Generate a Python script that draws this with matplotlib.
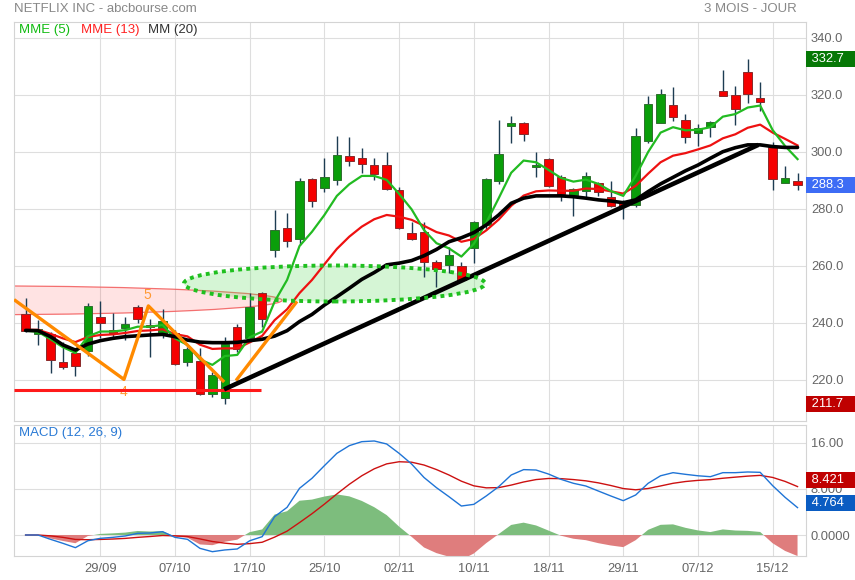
import matplotlib
matplotlib.use('Agg')
import matplotlib.pyplot as plt
from matplotlib.patches import Ellipse
import numpy as np

plt.rcParams['font.family'] = ['Liberation Sans', 'DejaVu Sans']

# --- donnees (63 seances) ---
tick_idx = [6, 12, 18, 24, 30, 36, 42, 48, 54, 60]
tick_labels = ['29/09', '07/10', '17/10', '25/10', '02/11', '10/11', '18/11', '29/11', '07/12', '15/12']

opens = [243.1, 236.0, 236.0, 226.2, 229.4, 230.3, 242.0, 237.5, 238.3, 245.6,
         239.3, 235.8, 236.4, 226.2, 226.7, 215.0, 213.6, 238.5, 234.8, 250.4,
         265.5, 273.2, 269.4, 290.4, 287.3, 290.0, 298.6, 297.8, 295.4, 295.4,
         286.7, 271.5, 272.0, 261.3, 260.2, 260.0, 266.2, 274.4, 289.9, 309.2,
         310.1, 294.8, 297.4, 291.3, 284.9, 286.2, 289.0, 284.3, 282.2, 281.4,
         304.0, 310.3, 316.5, 311.2, 306.6, 308.9, 321.4, 320.0, 328.0, 318.8,
         301.6, 289.0, 289.8]
highs = [248.7, 241.1, 237.0, 233.4, 231.2, 247.0, 247.7, 243.4, 242.2, 246.4,
         241.4, 244.9, 237.5, 231.5, 231.3, 222.8, 235.2, 239.6, 250.5, 251.0,
         279.6, 278.5, 290.8, 290.8, 297.8, 305.6, 305.4, 301.3, 297.8, 299.9,
         287.8, 275.5, 275.3, 262.1, 266.8, 261.5, 275.8, 290.8, 311.2, 312.6,
         310.4, 299.9, 297.9, 291.9, 287.5, 292.9, 289.6, 289.8, 283.2, 308.3,
         319.6, 322.1, 322.7, 313.3, 309.8, 311.0, 328.8, 323.2, 332.7, 324.7,
         303.6, 295.1, 292.5]
lows = [236.8, 232.3, 222.3, 223.9, 221.5, 228.4, 234.6, 234.6, 234.0, 239.9,
        228.2, 234.6, 225.3, 225.0, 214.8, 213.9, 211.7, 229.8, 234.0, 238.7,
        263.3, 266.8, 267.4, 280.8, 286.1, 288.4, 295.1, 292.7, 290.2, 286.5,
        273.0, 269.2, 256.2, 252.7, 257.4, 254.9, 261.0, 272.6, 288.8, 303.0,
        304.0, 291.3, 287.7, 282.9, 277.5, 284.3, 284.6, 280.8, 276.4, 280.8,
        303.3, 310.0, 311.0, 303.3, 302.1, 305.2, 319.6, 309.5, 317.3, 314.5,
        286.7, 289.0, 286.5]
closes = [237.3, 237.8, 226.9, 224.7, 225.0, 246.0, 240.1, 236.6, 239.6, 241.3,
          238.5, 240.7, 225.5, 230.8, 215.0, 221.8, 232.5, 230.8, 245.7, 241.3,
          272.6, 268.7, 289.8, 282.7, 291.1, 299.0, 297.0, 295.7, 292.2, 286.9,
          273.2, 269.4, 261.3, 258.8, 263.8, 255.1, 275.3, 290.5, 299.3, 310.1,
          306.2, 295.4, 288.2, 285.3, 287.0, 291.6, 285.8, 281.2, 281.2, 305.6,
          316.8, 320.4, 312.4, 305.4, 308.3, 310.5, 319.8, 315.0, 320.2, 317.6,
          290.4, 290.9, 288.3]

mme5 = [237.3, 236.9, 234.3, 231.5, 229.5, 235.3, 237.0, 237.0, 237.5, 238.7,
        238.7, 239.3, 234.6, 232.3, 227.2, 225.3, 228.4, 228.8, 235.0, 237.0,
        247.5, 255.1, 267.0, 272.0, 277.9, 284.6, 288.7, 291.6, 291.6, 290.2,
        285.3, 279.9, 272.6, 268.0, 266.2, 263.3, 267.8, 275.2, 283.8, 292.7,
        297.0, 296.4, 293.7, 290.9, 289.6, 290.3, 288.8, 286.3, 284.6, 291.6,
        300.0, 306.8, 308.7, 307.6, 307.8, 308.7, 312.4, 313.3, 315.6, 316.3,
        307.7, 302.1, 297.5]
mme13 = [237.6, 237.6, 236.2, 234.6, 233.3, 235.1, 235.8, 236.0, 236.5, 237.2,
         237.4, 237.8, 236.1, 235.3, 232.4, 230.9, 231.1, 231.1, 233.2, 235.5,
         241.0, 244.8, 250.5, 255.1, 260.6, 266.0, 270.3, 273.8, 276.4, 277.9,
         277.3, 276.2, 274.1, 271.9, 270.7, 268.5, 269.5, 272.5, 276.3, 281.1,
         284.7, 286.2, 286.5, 286.4, 286.4, 287.2, 287.0, 286.2, 285.4, 288.1,
         292.4, 296.4, 298.7, 299.6, 300.9, 302.3, 304.8, 306.2, 308.5, 309.6,
         306.8, 304.6, 302.3]
mm20 = [237.4, 237.3, 235.2, 232.3, 230.5, 232.6, 233.8, 234.6, 235.2, 235.5,
        235.8, 236.0, 235.2, 234.0, 233.3, 233.1, 233.1, 233.2, 233.8, 234.3,
        235.4, 237.3, 240.5, 243.0, 246.3, 249.2, 252.2, 255.3, 257.7, 260.4,
        261.0, 261.9, 263.6, 265.8, 268.5, 269.9, 271.7, 274.4, 277.9, 282.0,
        283.8, 284.6, 284.6, 284.6, 284.3, 283.8, 283.2, 282.8, 282.2, 283.2,
        286.1, 288.8, 291.1, 293.4, 295.4, 297.8, 300.1, 301.5, 302.5, 302.5,
        301.9, 301.6, 301.6]

macd = [0.0, 0.0, -0.75, -1.45, -2.2, -1.0, -0.58, -0.41, -0.17, 0.29,
        0.35, 0.58, -0.41, -0.75, -2.32, -2.9, -2.6, -2.43, -1.0, -0.29,
        3.19, 4.81, 8.12, 9.86, 12.06, 14.2, 15.54, 16.23, 16.35, 15.83,
        14.2, 12.35, 10.0, 8.23, 6.67, 5.04, 5.33, 6.79, 8.41, 10.43,
        11.37, 11.3, 10.6, 9.68, 8.99, 8.52, 7.65, 6.79, 5.97, 6.96,
        8.99, 10.3, 10.84, 10.55, 10.3, 10.14, 10.84, 10.84, 10.96, 10.9,
        8.58, 6.55, 4.764]
signal = [0.0, 0.0, -0.15, -0.41, -0.77, -0.82, -0.77, -0.70, -0.59, -0.41,
          -0.26, -0.09, -0.15, -0.27, -0.68, -1.13, -1.42, -1.62, -1.50, -1.26,
          -0.37, 0.67, 2.16, 3.70, 5.37, 7.14, 8.82, 10.30, 11.51, 12.37,
          12.74, 12.66, 12.17, 11.38, 10.44, 9.36, 8.55, 8.20, 8.24, 8.68,
          9.22, 9.64, 9.83, 9.80, 9.64, 9.42, 9.07, 8.61, 8.08, 7.86,
          8.09, 8.53, 8.99, 9.30, 9.50, 9.63, 9.87, 10.06, 10.24, 10.37,
          10.01, 9.32, 8.421]

# traces dessines a la main (index de seance, cours)
vague_1 = [(-0.93, 248.2), (7.9, 220.2), (9.86, 246.0), (15.95, 219.3)]
vague_2 = [(16.9, 219.8), (21.8, 247.6)]
support = [(-0.93, 216.5), (18.9, 216.5)]
tendance = [(15.94, 216.7), (58.85, 302.5)]
ellipse_rose = ((-3.58, 247.96), 48.35, 10.1)
ellipse_verte = ((24.81, 253.86), 24.18, 12.63)

x = np.arange(len(closes))
o = np.array(opens); c = np.array(closes)
h = np.array(highs); l = np.array(lows)

fig = plt.figure(figsize=(8.55, 5.8), dpi=100)
ax = fig.add_axes([0.016374, 0.274138, 0.926316, 0.687931])
ax2 = fig.add_axes([0.016374, 0.041379, 0.926316, 0.225862])

for a in (ax, ax2):
    a.set_xlim(-0.932, 62.68)
    a.set_xticks(tick_idx)
    a.grid(True, color='#dedede', lw=0.8)
    a.set_axisbelow(True)
    for s in a.spines.values():
        s.set_color('#d4d4d4')
        s.set_linewidth(0.8)
    a.yaxis.tick_right()
    a.tick_params(length=0, labelsize=9.3, labelcolor='#666666', pad=3.5)

ax.set_ylim(205.61, 345.61)
ax.set_yticks([220, 240, 260, 280, 300, 320, 340])
ax.set_yticklabels(['220.0', '240.0', '260.0', '280.0', '300.0', '320.0', '340.0'])
ax.set_xticklabels([])

# ellipses
e1 = Ellipse(*ellipse_rose, fc=(1, 0, 0, 0.11), ec=(0.95, 0.35, 0.35, 0.85), lw=0.9, zorder=1.5)
ax.add_patch(e1)
e2 = Ellipse(*ellipse_verte, fc=(0.35, 0.85, 0.35, 0.25), ec='none', zorder=1.5)
ax.add_patch(e2)
e3 = Ellipse(*ellipse_verte, fc='none', ec='#1fc01f', lw=2.8, ls=(0, (1, 1.1)), zorder=6)
ax.add_patch(e3)

# bougies
up = c >= o
lo = np.minimum(o, c)
hh = np.maximum(np.abs(c - o), 0.4)
ax.vlines(x, l, h, color='#1d3c52', lw=1.0, zorder=2)
ax.bar(x[up], hh[up], bottom=lo[up], width=0.68, color='#0a9e0a', edgecolor='#2f6f2f', lw=0.7, zorder=3)
ax.bar(x[~up], hh[~up], bottom=lo[~up], width=0.68, color='#f50000', edgecolor='#8a2a2a', lw=0.7, zorder=3)

# moyennes
ax.plot(x, mme13, color='#ee1111', lw=1.6, zorder=4)
ax.plot(x, mme5, color='#22bb22', lw=1.6, zorder=4)
ax.plot(x, mm20, color='black', lw=2.6, zorder=4.5, solid_capstyle='round')

# traces
for pts, col, lw in [(vague_1, '#ff8a00', 2.4), (vague_2, '#ff8a00', 2.4),
                     (support, '#ff1a1a', 2.2), (tendance, 'black', 3.3)]:
    px, py = zip(*pts)
    ax.plot(px, py, color=col, lw=lw, zorder=5, solid_capstyle='butt')
ax.text(9.78, 249.8, '5', color='#ff9933', fontsize=10, ha='center', va='center', zorder=4.8)
ax.text(7.85, 215.9, '4', color='#ff9933', fontsize=10, ha='center', va='center', zorder=4.8)

# legende
ax.text(0.0063, 0.98, 'MME (5)', color='#11bb11', fontsize=9.5, transform=ax.transAxes, va='center')
ax.text(0.084, 0.98, 'MME (13)', color='#ff2222', fontsize=9.5, transform=ax.transAxes, va='center')
ax.text(0.169, 0.98, 'MM (20)', color='#333333', fontsize=9.5, transform=ax.transAxes, va='center')

# etiquettes de droite
tr = ax.get_yaxis_transform()
for val, col in [(332.7, '#067806'), (288.3, '#3d6cf5'), (211.7, '#bf0000')]:
    ax.text(1.0025, val, ' %.1f   ' % val, transform=tr, color='white', fontsize=9.3,
            va='center', ha='left',
            bbox=dict(boxstyle='square,pad=0.15', fc=col, ec='none'))

# MACD
hist = np.array(macd) - np.array(signal)
ax2.set_ylim(-3.652, 19.13)
ax2.set_yticks([0, 8, 16])
ax2.set_yticklabels(['0.0000', '8.000', '16.00'])
ax2.set_xticklabels(tick_labels)
ax2.tick_params(axis='x', pad=5, labelcolor='#666666')
ax2.fill_between(x, 0, hist, where=hist >= 0, interpolate=True, color='#7dbd7d', lw=0, zorder=2)
ax2.fill_between(x, 0, hist, where=hist <= 0, interpolate=True, color='#df7d7d', lw=0, zorder=2)
ax2.plot(x, signal, color='#cc1111', lw=1.0, zorder=3)
ax2.plot(x, macd, color='#1f74d6', lw=1.0, zorder=3)
ax2.text(0.0063, 0.94, 'MACD (12, 26, 9)', color='#2a7ad5', fontsize=9.5, transform=ax2.transAxes, va='center')
tr2 = ax2.get_yaxis_transform()
for val, ypos, col in [(8.421, 9.55, '#c00000'), (4.764, 5.6, '#0a5cc2')]:
    ax2.text(1.0025, ypos, ' %.3f   ' % val, transform=tr2, color='white', fontsize=9.3,
             va='center', ha='left', zorder=5,
             bbox=dict(boxstyle='square,pad=0.17', fc=col, ec='none'))

fig.text(14 / 855, 1 - 9 / 580, 'NETFLIX INC - abcbourse.com', color='#888888', fontsize=9.5, va='center')
fig.text(797 / 855, 1 - 9 / 580, '3 MOIS - JOUR', color='#888888', fontsize=9.5, va='center', ha='right')

fig.savefig('out.png', dpi=100)
